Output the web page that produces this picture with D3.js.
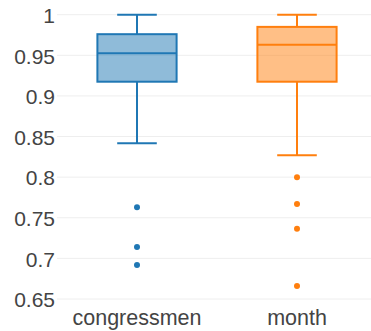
<!DOCTYPE html>
<html><head><meta charset="utf-8">
<script src="https://cdn.jsdelivr.net/npm/d3@7"></script>
<style>body{margin:0;background:#fff}svg{display:block}</style>
</head><body>
<svg id="c" width="371" height="331"></svg>
<script>
const categories = ["congressmen", "month"];
const colors = ["#1f77b4", "#ff7f0e"];
const lowerWhisker = [0.8416, 0.827];
const q1 = [0.9175, 0.9175];
const median = [0.9525, 0.963];
const q3 = [0.976, 0.985];
const upperWhisker = [1.0, 1.0];
const outliers = [[0.763, 0.714, 0.692], [0.800, 0.767, 0.7365, 0.666]];
const yTicks = [0.65, 0.7, 0.75, 0.8, 0.85, 0.9, 0.95, 1];

const svg = d3.select("#c");
const x = d3.scaleBand().domain(categories).range([57, 377]);
const y = d3.scaleLinear().domain([0.65, 1]).range([299, 14.7]);

// gridlines
svg.append("g").selectAll("line").data(yTicks).join("line")
  .attr("x1", 57).attr("x2", 377)
  .attr("y1", d => y(d)).attr("y2", d => y(d))
  .attr("stroke", "#eeeeee").attr("stroke-width", 1);

// y tick labels
const yAxis = d3.axisLeft(y).tickValues(yTicks).tickSize(0).tickPadding(2)
  .tickFormat(d => d3.format("")(+d.toFixed(2)));
const ga = svg.append("g").attr("transform", "translate(57,0)").call(yAxis);
ga.select(".domain").remove();
ga.selectAll("text").attr("font-family", "Liberation Sans, Arial, sans-serif")
  .attr("font-size", 21).attr("fill", "#444").attr("dy", "0.37em");

// x tick labels
const xAxis = d3.axisBottom(x).tickSize(0).tickPadding(0);
const gx = svg.append("g").attr("transform", "translate(0,309)").call(xAxis);
gx.select(".domain").remove();
gx.selectAll("text").attr("font-family", "Liberation Sans, Arial, sans-serif")
  .attr("font-size", 21.5).attr("fill", "#444").attr("dy", "0.75em");

const boxW = x.bandwidth() * 0.495;
categories.forEach((c, i) => {
  const cx = x(c) + x.bandwidth() / 2;
  const g = svg.append("g");
  const col = colors[i];
  // whisker lines
  g.append("line").attr("x1", cx).attr("x2", cx).attr("y1", y(upperWhisker[i])).attr("y2", y(q3[i]))
    .attr("stroke", col).attr("stroke-width", 2);
  g.append("line").attr("x1", cx).attr("x2", cx).attr("y1", y(q1[i])).attr("y2", y(lowerWhisker[i]))
    .attr("stroke", col).attr("stroke-width", 2);
  // caps
  [upperWhisker[i], lowerWhisker[i]].forEach(v => {
    g.append("line").attr("x1", cx - boxW / 4).attr("x2", cx + boxW / 4)
      .attr("y1", y(v)).attr("y2", y(v)).attr("stroke", col).attr("stroke-width", 2);
  });
  // box
  g.append("rect").attr("x", cx - boxW / 2).attr("width", boxW)
    .attr("y", y(q3[i])).attr("height", y(q1[i]) - y(q3[i]))
    .attr("fill", col).attr("fill-opacity", 0.5)
    .attr("stroke", col).attr("stroke-width", 2);
  // median
  g.append("line").attr("x1", cx - boxW / 2).attr("x2", cx + boxW / 2)
    .attr("y1", y(median[i])).attr("y2", y(median[i])).attr("stroke", col).attr("stroke-width", 2);
  // outliers
  g.selectAll("circle").data(outliers[i]).join("circle")
    .attr("cx", cx).attr("cy", d => y(d)).attr("r", 3).attr("fill", col);
});
</script>
</body></html>
